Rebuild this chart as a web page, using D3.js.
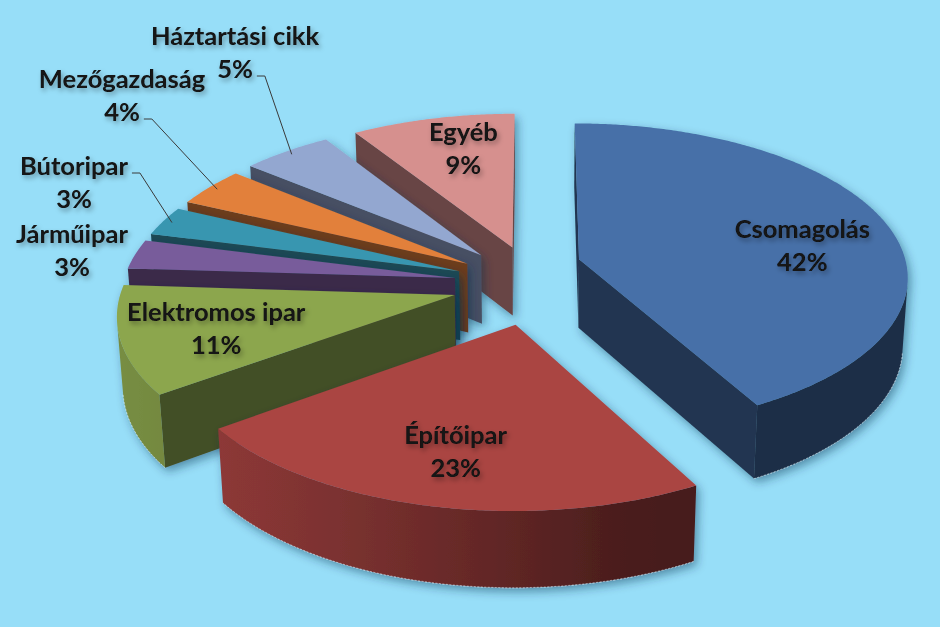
<!DOCTYPE html>
<html>
<head>
<meta charset="utf-8">
<script src="https://cdn.jsdelivr.net/npm/d3@7"></script>
<style>
html, body { margin: 0; padding: 0; background: #97def8; }
svg { display: block; }
.lbl { font-family: Lato, 'Open Sans', sans-serif; font-weight: 700; font-size: 25.5px; fill: #121212; }
</style>
</head>
<body>
<script>
// data
const categories = ['Csomagolás', 'Építőipar', 'Elektromos ipar', 'Járműipar', 'Bútoripar', 'Mezőgazdaság', 'Háztartási cikk', 'Egyéb'];
const shares = [42, 23, 11, 3, 3, 4, 5, 9];
const pctLabels = ['42%', '23%', '11%', '3%', '3%', '4%', '5%', '9%'];

// styling
const topColors = ['#4670a8', '#aa4442', '#8ca64e', '#785c9b', '#3996b0', '#e2803a', '#93a7d0', '#d6908e'];
const explode = [0.21, 0.26, 0.25, 0.245, 0.245, 0.245, 0.25, 0.25];
const explodeDir = [40, null, null, null, null, null, null, null]; // degrees, null = slice middle
const labelR = [0.7, 0.72, 0.72, 0, 0, 0, 0, 0.74];
const labelDA = [6.4, 0, 0, 0, 0, 0, 0, 3];
// labels that sit outside the pie: [center x, first baseline], leader from line n
const outside = {
	3: { x: 72, y: 243, leader: null },
	4: { x: 74, y: 175, leader: 0 },
	5: { x: 122, y: 88, leader: 1 },
	6: { x: 235, y: 45, leader: 1 }
};

const W = 940, H = 627;
const cam = { cx: 535, cy: 284, F: 2656, L: 8.0, s: 0.47 };
cam.c = Math.sqrt(1 - cam.s * cam.s);
const camPos = [0, -cam.L * cam.c, cam.L * cam.s];
const thick = 0.24;
const deg = Math.PI / 180;

function proj(p) {
	const zc = cam.L + p[1] * cam.c - p[2] * cam.s;
	return [cam.cx + cam.F * p[0] / zc, cam.cy - cam.F * (p[1] * cam.s + p[2] * cam.c) / zc];
}
function depth(p) { return cam.L + p[1] * cam.c - p[2] * cam.s; }
function faces(n, p) {
	return n[0] * (camPos[0] - p[0]) + n[1] * (camPos[1] - p[1]) + n[2] * (camPos[2] - p[2]) > 0;
}
function shade(col, f) {
	const c = d3.rgb(col);
	return d3.rgb(c.r * f, c.g * f, c.b * f).formatHex();
}

const pie = d3.pie().sort(null).value(d => d)(shares);

const slices = pie.map((p, i) => {
	const mid = (p.startAngle + p.endAngle) / 2;
	const ed = explodeDir[i] == null ? mid : explodeDir[i] * deg;
	return { i, a0: p.startAngle, a1: p.endAngle, mid,
		ox: explode[i] * Math.sin(ed), oy: explode[i] * Math.cos(ed) };
});

function pt(s, a, r, z) { return [s.ox + r * Math.sin(a), s.oy + r * Math.cos(a), z]; }

// order far to near
slices.forEach(s => {
	const half = (s.a1 - s.a0) / 2;
	const rc = (2 / 3) * Math.sin(half) / half;
	s.depth = depth(pt(s, s.mid, rc, -thick / 2));
});
const drawOrder = slices.slice().sort((a, b) => b.depth - a.depth);

const svg = d3.select('body').append('svg').attr('width', W).attr('height', H);
const defs = svg.append('defs');
defs.append('filter').attr('id', 'shadow').attr('x', '-20%').attr('y', '-20%').attr('width', '140%').attr('height', '140%')
	.append('feDropShadow').attr('dx', 3).attr('dy', 4).attr('stdDeviation', 5)
	.attr('flood-color', '#0b2a48').attr('flood-opacity', 0.45);
defs.append('filter').attr('id', 'tshadow').attr('x', '-20%').attr('y', '-30%').attr('width', '140%').attr('height', '160%')
	.append('feDropShadow').attr('dx', 2).attr('dy', 3).attr('stdDeviation', 2.5)
	.attr('flood-color', '#000').attr('flood-opacity', 0.35);

svg.append('rect').attr('width', W).attr('height', H).attr('fill', '#97def8');

const line = d3.line();
const path2d = pts => line(pts.map(proj)) + 'Z';
const sideLight = a => 0.42 + 0.45 * Math.max(0, -0.9 * Math.sin(a) - 0.3 * Math.cos(a));

const pieG = svg.append('g');

drawOrder.forEach(s => {
	const g = pieG.append('g').attr('filter', 'url(#shadow)');
	const base = topColors[s.i];
	const apexT = [s.ox, s.oy, 0], apexB = [s.ox, s.oy, -thick];

	// radial faces
	const n0 = [-Math.cos(s.a0), Math.sin(s.a0), 0];
	if (faces(n0, apexT)) g.append('path').attr('fill', shade(base, 0.48))
		.attr('d', path2d([apexT, pt(s, s.a0, 1, 0), pt(s, s.a0, 1, -thick), apexB]));
	const n1 = [Math.cos(s.a1), -Math.sin(s.a1), 0];
	if (faces(n1, apexT)) g.append('path').attr('fill', shade(base, 0.48))
		.attr('d', path2d([apexT, pt(s, s.a1, 1, 0), pt(s, s.a1, 1, -thick), apexB]));

	// outer side: visible arc range as one shape with a lighting gradient
	const steps = Math.max(2, Math.ceil((s.a1 - s.a0) / (0.5 * deg)));
	const da = (s.a1 - s.a0) / steps;
	const vis = [];
	for (let k = 0; k <= steps; k++) {
		const a = s.a0 + k * da;
		const n = [Math.sin(a), Math.cos(a), 0];
		if (faces(n, pt(s, a, 1, -thick / 2))) vis.push(a);
	}
	if (vis.length > 1) {
		const topArc = vis.map(a => pt(s, a, 1, 0));
		const botArc = vis.map(a => pt(s, a, 1, -thick)).reverse();
		const xs = vis.map(a => proj(pt(s, a, 1, 0))[0]);
		const x0 = xs[0], x1 = xs[xs.length - 1];
		const gid = 'side' + s.i;
		const grad = defs.append('linearGradient').attr('id', gid)
			.attr('gradientUnits', 'userSpaceOnUse')
			.attr('x1', x0).attr('y1', 0).attr('x2', x1).attr('y2', 0);
		const every = Math.max(1, Math.floor(vis.length / 12));
		vis.forEach((a, k) => {
			if (k % every && k !== vis.length - 1) return;
			grad.append('stop').attr('offset', Math.abs(x1 - x0) < 1 ? 0 : (xs[k] - x0) / (x1 - x0))
				.attr('stop-color', shade(base, sideLight(a)));
		});
		g.append('path').attr('d', path2d(topArc.concat(botArc))).attr('fill', `url(#${gid})`);
		g.append('path').attr('d', line(vis.map(a => proj(pt(s, a, 1, -thick))))).attr('fill', 'none')
			.attr('stroke', '#eef6ff').attr('stroke-opacity', 0.5).attr('stroke-width', 0.9)
			.attr('stroke-dasharray', '2 1.5');
	}

	// top
	const topPts = [apexT];
	for (let k = 0; k <= steps; k++) topPts.push(pt(s, s.a0 + k * da, 1, 0));
	g.append('path').attr('d', path2d(topPts)).attr('fill', base);
});

// labels
const labG = svg.append('g').attr('filter', 'url(#tshadow)');
const leadG = svg.append('g');

slices.forEach(s => {
	const i = s.i;
	let x, y;
	if (outside[i]) {
		x = outside[i].x; y = outside[i].y;
	} else {
		const p = proj(pt(s, s.mid + labelDA[i] * deg, labelR[i], 0));
		x = p[0]; y = p[1] - 7;
	}
	const t = labG.append('text').attr('class', 'lbl').attr('text-anchor', 'middle');
	const l1 = t.append('tspan').attr('x', x).attr('y', y).text(categories[i]);
	const l2 = t.append('tspan').attr('x', x).attr('y', y + 33).text(pctLabels[i]);

	if (outside[i] && outside[i].leader != null) {
		const node = (outside[i].leader === 0 ? l1 : l2).node();
		const w = node.getComputedTextLength();
		const ly = (outside[i].leader === 0 ? y : y + 33) - 2;
		const x0 = x + w / 2 + 4;
		const end = proj(pt(s, s.mid, 0.97, 0));
		leadG.append('path')
			.attr('d', line([[x0, ly], [x0 + 8, ly], end]))
			.attr('fill', 'none').attr('stroke', '#3a3a3a').attr('stroke-width', 1);
	}
});
</script>
</body>
</html>
